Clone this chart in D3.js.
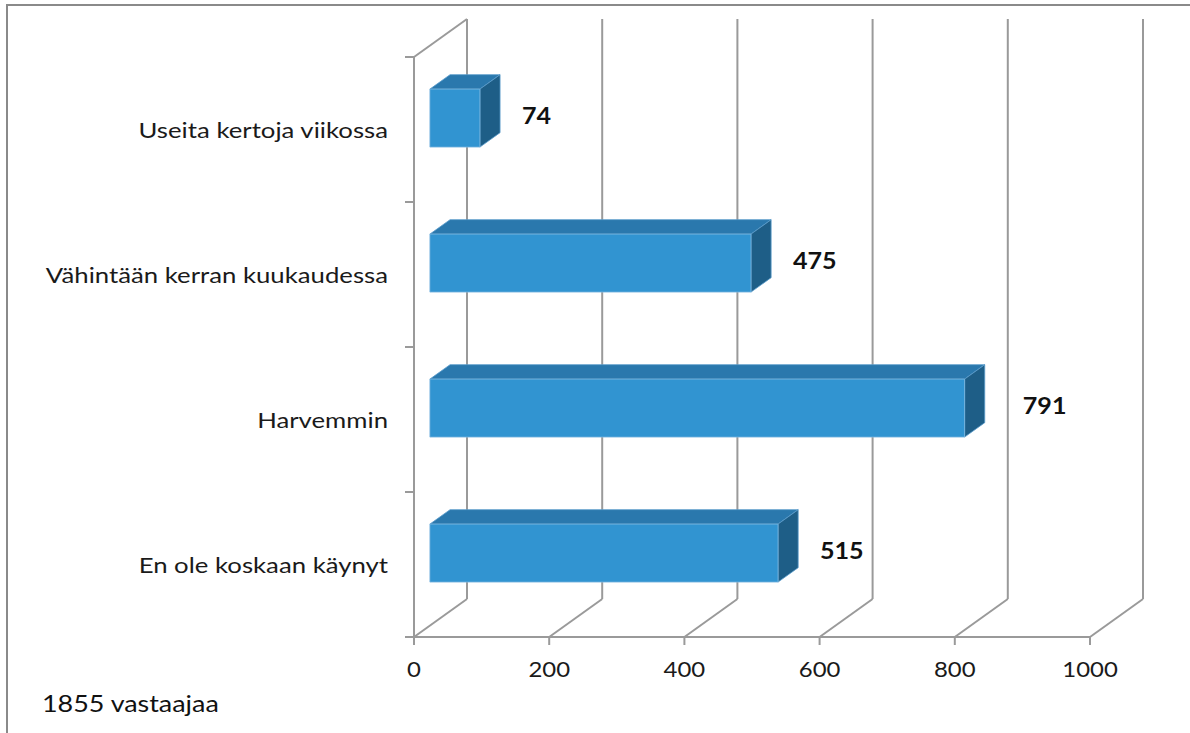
<!DOCTYPE html>
<html><head><meta charset="utf-8">
<script src="https://cdn.jsdelivr.net/npm/d3@7"></script>
<style>html,body{margin:0;padding:0;background:#fff;}svg{display:block;}</style>
</head><body>
<svg id="c" width="1190" height="733"></svg>
<script>
const categories = ["Useita kertoja viikossa","Vähintään kerran kuukaudessa","Harvemmin","En ole koskaan käynyt"];
const values = [74, 475, 791, 515];
const tickValues = [0, 200, 400, 600, 800, 1000];
const footnote = "1855 vastaajaa";

const svg = d3.select("#c");
const W = 1190, H = 733;
const FONT = "Lato, 'Open Sans', sans-serif";
const SX = 1.14;            // horizontal stretch of the original text
const DX = 53, DY = -38;    // full depth vector of the 3D box
const F1 = 0.30, F2 = 0.68; // bar depth range (fraction of box depth)
const gridCol = "#9a9a9a";

const x = d3.scaleLinear().domain([0, 1000]).range([414, 1090]);
const y = d3.scaleBand().domain(categories).range([57, 637]).paddingInner(0).paddingOuter(0);
const P = (v, py, d) => [x(v) + d * DX, py + d * DY];

// frame
svg.append("path").attr("d", `M7,${H+2} L7,5 L${W+2},5`).attr("fill","none")
  .attr("stroke","#8a8a8a").attr("stroke-width",2);

const g = svg.append("g");
const yTop = y.range()[0], yBot = y.range()[1];

// back wall vertical gridlines and floor diagonals
tickValues.forEach(t => {
  const b0 = P(t, yBot, 1), b1 = P(t, yTop, 1), f0 = P(t, yBot, 0);
  g.append("line").attr("x1", b0[0]).attr("y1", b0[1]).attr("x2", b1[0]).attr("y2", b1[1])
    .attr("stroke", gridCol).attr("stroke-width", 2);
  g.append("line").attr("x1", f0[0]).attr("y1", f0[1]).attr("x2", b0[0]).attr("y2", b0[1])
    .attr("stroke", gridCol).attr("stroke-width", 2);
});
// left wall: front vertical + top diagonal
{
  const a = P(0, yTop, 0), b = P(0, yBot, 0), c = P(0, yTop, 1);
  g.append("line").attr("x1", a[0]).attr("y1", a[1]).attr("x2", b[0]).attr("y2", b[1])
    .attr("stroke", gridCol).attr("stroke-width", 2);
  g.append("line").attr("x1", a[0]).attr("y1", a[1]).attr("x2", c[0]).attr("y2", c[1])
    .attr("stroke", gridCol).attr("stroke-width", 2);
}
// front floor axis line + ticks
{
  const a = P(0, yBot, 0), b = P(1000, yBot, 0);
  g.append("line").attr("x1", a[0] - 9).attr("y1", a[1]).attr("x2", b[0]).attr("y2", b[1])
    .attr("stroke", gridCol).attr("stroke-width", 2);
  tickValues.forEach(t => {
    g.append("line").attr("x1", x(t)).attr("y1", yBot).attr("x2", x(t)).attr("y2", yBot + 8)
      .attr("stroke", gridCol).attr("stroke-width", 2);
  });
}
// left axis ticks at band boundaries
categories.forEach(c => {
  g.append("line").attr("x1", x(0) - 9).attr("y1", y(c)).attr("x2", x(0)).attr("y2", y(c))
    .attr("stroke", gridCol).attr("stroke-width", 2);
});

// tick labels
tickValues.forEach(t => {
  svg.append("text").attr("transform", `translate(${x(t)},677) scale(${SX},1)`)
    .attr("text-anchor","middle").attr("font-family",FONT).attr("font-size",21)
    .attr("fill","#1a1a1a").text(t);
});

// category labels
categories.forEach(c => {
  svg.append("text").attr("transform", `translate(388,${y(c) + y.bandwidth()/2 + 8}) scale(1.17,1)`)
    .attr("text-anchor","end").attr("font-family",FONT).attr("font-size",22)
    .attr("fill","#1a1a1a").text(c);
});

// bars
const bh = y.bandwidth() * 0.4;
const colFront = "#3194D1", colTop = "#2A78AD", colSide = "#1E5E87";
const backGridX = tickValues.map(t => P(t, 0, 1)[0]);
categories.forEach((c, i) => {
  const v = values[i];
  const cy = y(c) + y.bandwidth()/2;
  const t = cy - bh/2, b = cy + bh/2;
  const f00 = P(0, t, F1), f10 = P(v, t, F1), f11 = P(v, b, F1), f01 = P(0, b, F1);
  const k00 = P(0, t, F2), k10 = P(v, t, F2), k11 = P(v, b, F2);
  const pts = a => a.map(p => p.join(",")).join(" ");
  g.append("polygon").attr("points", pts([f00, f10, k10, k00])).attr("fill", colTop)
    .attr("stroke","#5a9ccb").attr("stroke-width",0.8);
  g.append("polygon").attr("points", pts([f10, k10, k11, f11])).attr("fill", colSide)
    .attr("stroke","#5a9ccb").attr("stroke-width",0.8);
  g.append("polygon").attr("points", pts([f00, f10, f11, f01])).attr("fill", colFront)
    .attr("stroke","#7fb8df").attr("stroke-width",0.8);
  const mid = P(v, cy, F1);
  let lx = mid[0] + 42;
  // avoid sitting on a back-wall gridline: move past it
  backGridX.forEach(gx => { if (gx > lx - 4 && gx < lx + 44) lx = gx + 15; });
  svg.append("text").attr("transform", `translate(${lx},${mid[1] + 6}) scale(${SX},1)`)
    .attr("font-family",FONT).attr("font-weight","bold").attr("font-size",22)
    .attr("fill","#111").text(v);
});

// footnote
svg.append("text").attr("transform", `translate(42,712) scale(1.17,1)`)
  .attr("font-family",FONT).attr("font-size",23).attr("fill","#111").text(footnote);
</script>
</body></html>
